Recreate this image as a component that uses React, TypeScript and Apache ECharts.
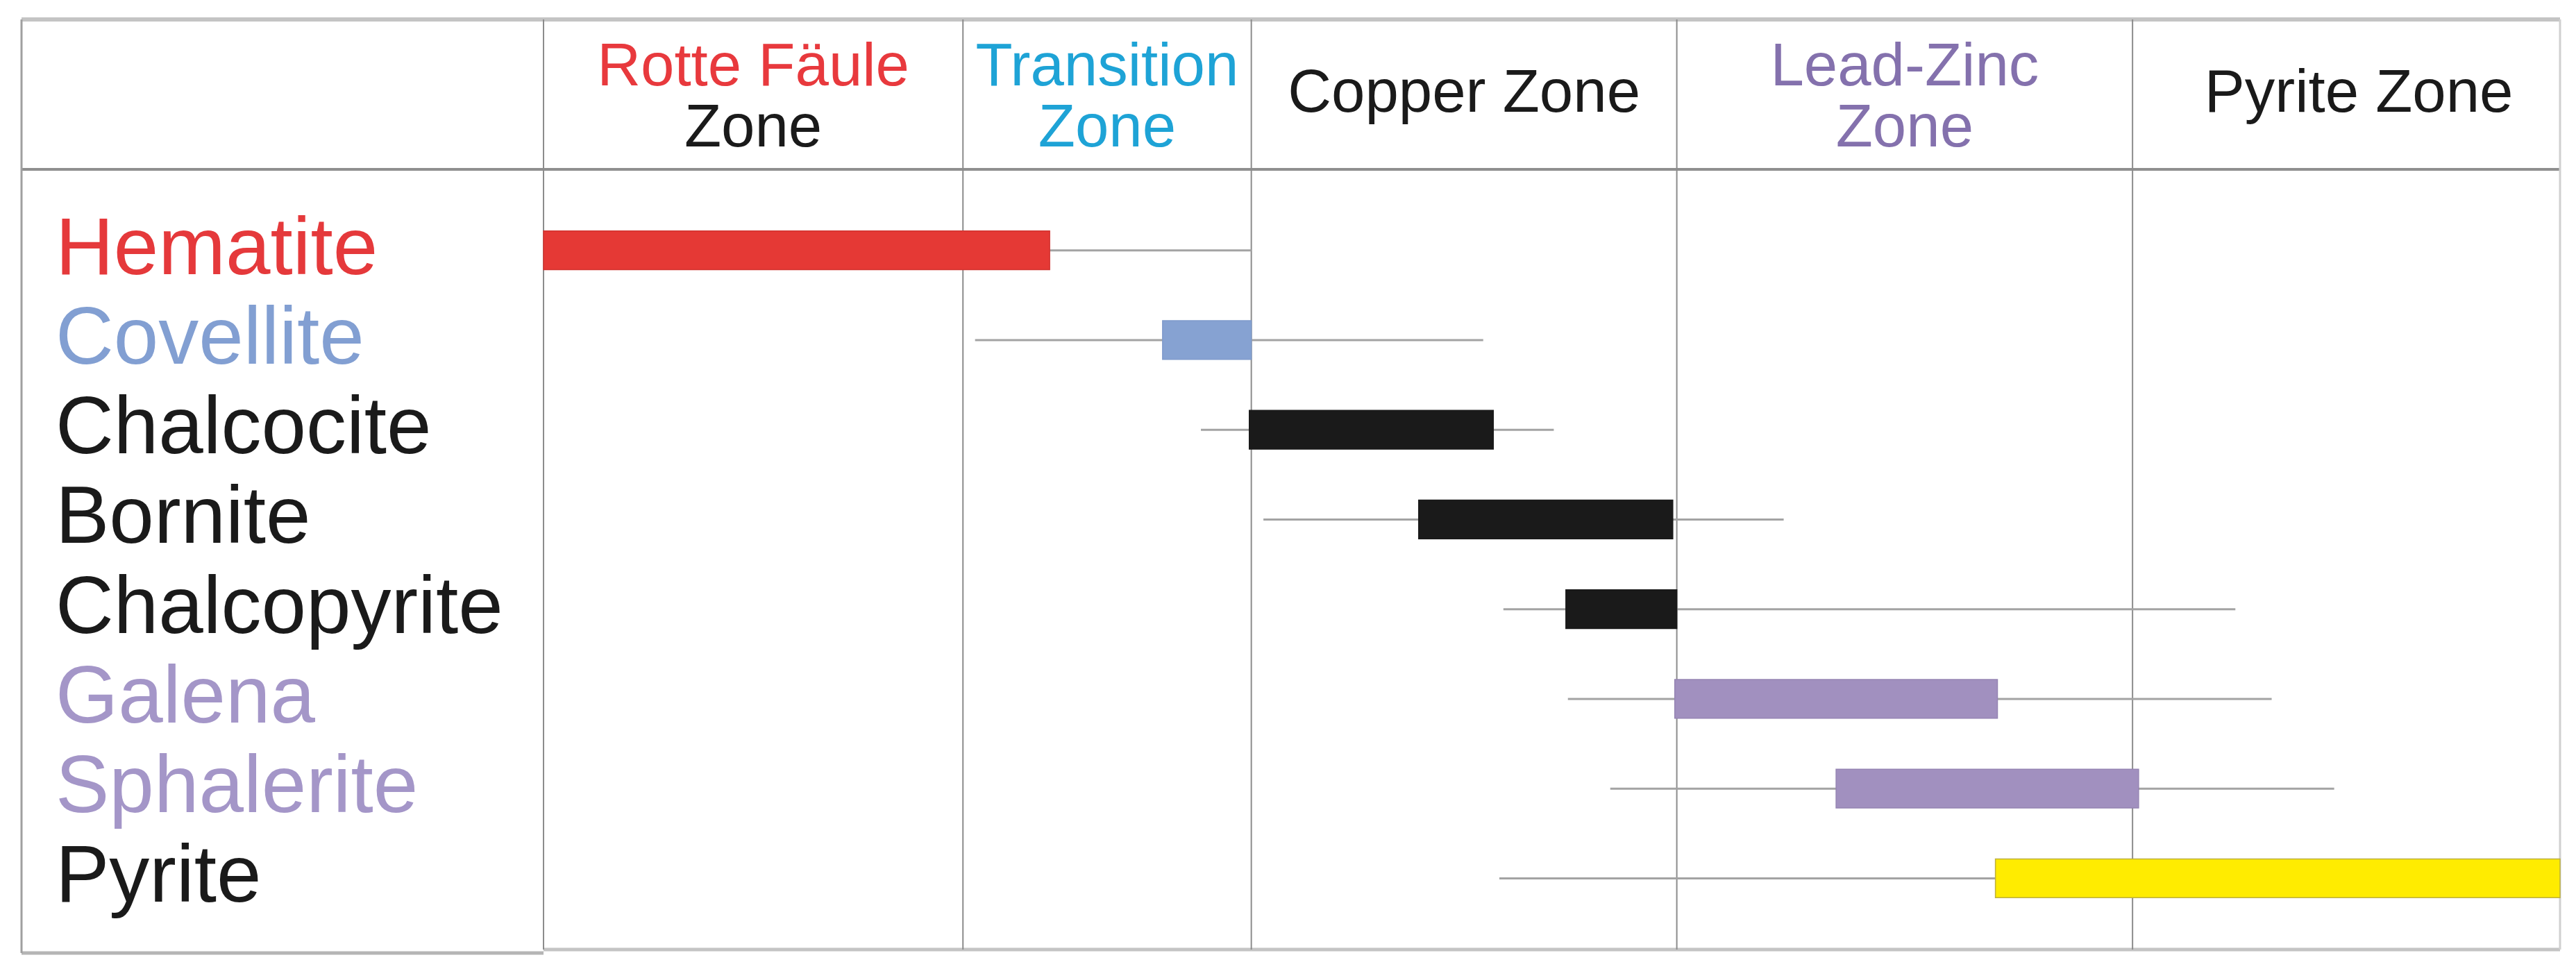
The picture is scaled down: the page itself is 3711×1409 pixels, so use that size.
import React, { useEffect, useRef } from 'react';
import * as echarts from 'echarts';

// ---- data ----
const minerals = ['Hematite', 'Covellite', 'Chalcocite', 'Bornite', 'Chalcopyrite', 'Galena', 'Sphalerite', 'Pyrite'];
// paragenetic position (0 = start of Rotte Fäule zone, 100 = end of Pyrite zone)
const whiskerStart = [0, 21.4, 32.6, 35.7, 47.6, 50.8, 52.9, 47.4];
const boxStart = [0, 30.7, 35.0, 43.4, 50.7, 56.1, 64.1, 72.0];
const boxEnd = [25.1, 35.1, 47.1, 56.0, 56.2, 72.1, 79.1, 100];
const whiskerEnd = [35.1, 46.6, 50.1, 61.5, 83.9, 85.7, 88.8, 100];

const zoneBounds = [0, 20.8, 35.1, 56.2, 78.8, 100];
const zoneLabelLines = [['Rotte Fäule', 'Zone'], ['Transition', 'Zone'], ['Copper Zone'], ['Lead-Zinc', 'Zone'], ['Pyrite Zone']];

// ---- styles ----
const zoneLabelColors = [['#e8393d', '#1a1a1a'], ['#1ea3d6', '#1ea3d6'], ['#1a1a1a'], ['#8471ad', '#8471ad'], ['#1a1a1a']];
const labelColors = ['#e5393b', '#829fd2', '#1a1a1a', '#1a1a1a', '#1a1a1a', '#a496c8', '#a496c8', '#1a1a1a'];
const boxColors = ['#e53935', '#86a2d2', '#1a1a1a', '#1a1a1a', '#1a1a1a', '#a190bf', '#a190bf', '#ffec00'];
const boxStrokes = ['#d23431', '#7f9bcb', '#1a1a1a', '#1a1a1a', '#1a1a1a', '#9584b3', '#9584b3', '#bdb040'];
const FONT = 'Liberation Sans';

const TABLE_LEFT = 31;
const PLOT_LEFT = 783;
const PLOT_RIGHT = 3688;
const TOP = 28;
const HEADER_BOTTOM = 244;
const PLOT_BOTTOM = 1368;
const LEFT_BOTTOM = 1373;
const ROWS_TOP = 296;
const ROWS_HEIGHT = 1034;

export default function App() {
  const ref = useRef<HTMLDivElement>(null);
  useEffect(() => {
    const chart = echarts.init(ref.current!, null, { renderer: 'svg' });
    const rich: any = {};
    minerals.forEach((m, i) => {
      rich['m' + i] = { color: labelColors[i], fontSize: 116, fontFamily: FONT, padding: [0, 0, 12, 0] };
    });
    const option: any = {
      animation: false,
      backgroundColor: '#ffffff',
      grid: [
        { left: PLOT_LEFT, top: TOP, width: PLOT_RIGHT - PLOT_LEFT, height: PLOT_BOTTOM - TOP },
        { left: PLOT_LEFT, top: ROWS_TOP, width: PLOT_RIGHT - PLOT_LEFT, height: ROWS_HEIGHT },
      ],
      xAxis: [
        { type: 'value', gridIndex: 0, min: 0, max: 100, show: false },
        { type: 'value', gridIndex: 1, min: 0, max: 100, show: false },
      ],
      yAxis: [
        { type: 'value', gridIndex: 0, min: 0, max: 1, show: false },
        {
          type: 'category',
          gridIndex: 1,
          data: minerals,
          inverse: true,
          axisLine: { show: false },
          axisTick: { show: false },
          splitLine: { show: false },
          axisLabel: {
            margin: PLOT_LEFT - 80,
            align: 'left',
            formatter: (v: string, i: number) => `{m${i}|${v}}`,
            rich,
          },
        },
      ],
      graphic: [
        { type: 'line', z: 0, shape: { x1: TABLE_LEFT, y1: TOP, x2: PLOT_RIGHT, y2: TOP }, style: { stroke: '#c4c4c4', lineWidth: 6 } },
        { type: 'line', z: 0, shape: { x1: TABLE_LEFT, y1: HEADER_BOTTOM, x2: PLOT_RIGHT, y2: HEADER_BOTTOM }, style: { stroke: '#8f8f8f', lineWidth: 4 } },
        { type: 'line', z: 0, shape: { x1: TABLE_LEFT, y1: LEFT_BOTTOM, x2: PLOT_LEFT, y2: LEFT_BOTTOM }, style: { stroke: '#b5b5b5', lineWidth: 5 } },
        { type: 'line', z: 0, shape: { x1: PLOT_LEFT, y1: PLOT_BOTTOM, x2: PLOT_RIGHT, y2: PLOT_BOTTOM }, style: { stroke: '#c4c4c4', lineWidth: 5 } },
        { type: 'line', z: 0, shape: { x1: TABLE_LEFT, y1: TOP, x2: TABLE_LEFT, y2: LEFT_BOTTOM }, style: { stroke: '#a0a0a0', lineWidth: 3 } },
      ],
      series: [
        {
          type: 'custom',
          name: 'zone boundaries',
          xAxisIndex: 0,
          yAxisIndex: 0,
          data: zoneBounds.map((v) => [v, 0]),
          encode: { x: 0, y: 1 },
          renderItem: (params: any, api: any) => {
            const x = api.coord([api.value(0), 0])[0];
            const cs = params.coordSys;
            const last = params.dataIndex === zoneBounds.length - 1;
            return {
              type: 'line',
              shape: { x1: x, y1: cs.y, x2: x, y2: cs.y + cs.height },
              style: { stroke: last ? '#d0d0d0' : '#8c8c8c', lineWidth: last ? 3 : 2 },
            };
          },
        },
        {
          type: 'custom',
          name: 'zone labels',
          xAxisIndex: 0,
          yAxisIndex: 0,
          data: zoneLabelLines.map((_, i) => [zoneBounds[i], zoneBounds[i + 1], i]),
          encode: { x: [0, 1], y: 2 },
          renderItem: (params: any, api: any) => {
            const i = params.dataIndex;
            const xa = api.coord([api.value(0), 0])[0];
            const xb = api.coord([api.value(1), 0])[0];
            const cx = (xa + xb) / 2 + (i === 4 ? 18 : 0);
            const cs = params.coordSys;
            const lines = zoneLabelLines[i];
            const ys = lines.length === 2 ? [cs.y + 64, cs.y + 152] : [cs.y + 102];
            return {
              type: 'group',
              children: lines.map((t, k) => ({
                type: 'text',
                style: {
                  text: t,
                  x: cx,
                  y: ys[k],
                  fill: zoneLabelColors[i][k],
                  fontSize: 87,
                  fontFamily: FONT,
                  align: 'center',
                  verticalAlign: 'middle',
                },
              })),
            };
          },
        },
        {
          type: 'custom',
          name: 'mineral ranges',
          xAxisIndex: 1,
          yAxisIndex: 1,
          data: minerals.map((_, i) => [i, whiskerStart[i], boxStart[i], boxEnd[i], whiskerEnd[i]]),
          encode: { x: [1, 2, 3, 4], y: 0 },
          renderItem: (params: any, api: any) => {
            const i = params.dataIndex;
            const c = api.value(0);
            const p0 = api.coord([api.value(1), c]);
            const p1 = api.coord([api.value(2), c]);
            const p2 = api.coord([api.value(3), c]);
            const p3 = api.coord([api.value(4), c]);
            const h = api.size([0, 1])[1] * 0.43;
            return {
              type: 'group',
              children: [
                {
                  type: 'line',
                  shape: { x1: p0[0], y1: p0[1], x2: p3[0], y2: p3[1] },
                  style: { stroke: '#a3a3a3', lineWidth: 3 },
                },
                {
                  type: 'rect',
                  shape: { x: p1[0], y: p1[1] - h / 2, width: p2[0] - p1[0], height: h },
                  style: { fill: boxColors[i], stroke: boxStrokes[i], lineWidth: 1.5 },
                },
              ],
            };
          },
        },
      ],
    };
    chart.setOption(option);
    return () => chart.dispose();
  }, []);
  return (
    <div
      ref={ref}
      style={{ position: 'fixed', left: 0, top: 0, width: '3711px', height: '1409px', background: '#fff' }}
    />
  );
}
